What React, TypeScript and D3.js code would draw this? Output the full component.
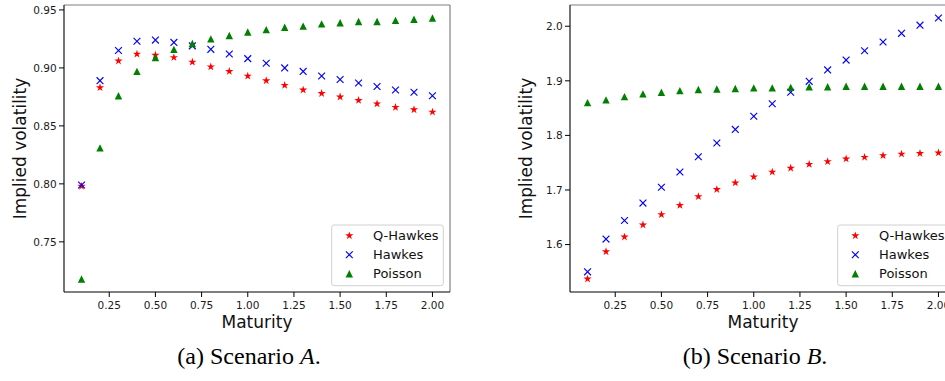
import React from "react"
import * as d3 from "d3"

// maturities shared by both scenarios
const maturities = [0.1, 0.2, 0.3, 0.4, 0.5, 0.6, 0.7, 0.8, 0.9, 1.0, 1.1, 1.2, 1.3, 1.4, 1.5, 1.6, 1.7, 1.8, 1.9, 2.0]

// Scenario A
const qHawkesA = [0.798, 0.883, 0.906, 0.912, 0.911, 0.909, 0.905, 0.901, 0.897, 0.893, 0.889, 0.885, 0.881, 0.878, 0.875, 0.872, 0.869, 0.866, 0.864, 0.862]
const hawkesA = [0.799, 0.889, 0.915, 0.923, 0.924, 0.922, 0.919, 0.916, 0.912, 0.908, 0.904, 0.900, 0.897, 0.893, 0.890, 0.887, 0.884, 0.881, 0.879, 0.876]
const poissonA = [0.718, 0.831, 0.876, 0.897, 0.909, 0.916, 0.921, 0.925, 0.928, 0.931, 0.933, 0.935, 0.936, 0.938, 0.939, 0.940, 0.940, 0.941, 0.942, 0.943]

// Scenario B
const qHawkesB = [1.537, 1.587, 1.614, 1.636, 1.655, 1.672, 1.688, 1.701, 1.713, 1.724, 1.733, 1.740, 1.747, 1.752, 1.757, 1.760, 1.763, 1.766, 1.767, 1.768]
const hawkesB = [1.550, 1.610, 1.644, 1.676, 1.705, 1.733, 1.761, 1.786, 1.811, 1.835, 1.858, 1.879, 1.899, 1.920, 1.938, 1.955, 1.971, 1.987, 2.002, 2.015]
const poissonB = [1.860, 1.865, 1.871, 1.876, 1.879, 1.882, 1.884, 1.885, 1.886, 1.887, 1.887, 1.888, 1.889, 1.889, 1.890, 1.890, 1.890, 1.890, 1.890, 1.890]

const xTicks = [0.25, 0.5, 0.75, 1.0, 1.25, 1.5, 1.75, 2.0]
const yTicksA = [0.75, 0.8, 0.85, 0.9, 0.95]
const yTicksB = [1.6, 1.7, 1.8, 1.9, 2.0]

const seriesNames = ["Q-Hawkes", "Hawkes", "Poisson"]

const FONT = "DejaVu Sans, sans-serif"
const COLORS = { star: "#ff0000", cross: "#0000ff", tri: "#008000" }

type Kind = "star" | "cross" | "tri"

function starPath(r: number) {
  const inner = r * 0.382
  const pts: string[] = []
  for (let i = 0; i < 10; i++) {
    const rad = i % 2 === 0 ? r : inner
    const a = (Math.PI / 5) * i - Math.PI / 2
    pts.push(`${(rad * Math.cos(a)).toFixed(2)},${(rad * Math.sin(a)).toFixed(2)}`)
  }
  return "M" + pts.join("L") + "Z"
}

function Marker({ kind, x, y }: { kind: Kind; x: number; y: number }) {
  if (kind === "star") {
    return <path d={starPath(4.3)} transform={`translate(${x},${y})`} fill={COLORS.star} />
  }
  if (kind === "cross") {
    const h = 3.4
    return (
      <path
        d={`M${-h},${-h}L${h},${h}M${-h},${h}L${h},${-h}`}
        transform={`translate(${x},${y})`}
        stroke={COLORS.cross}
        strokeWidth={1.15}
        fill="none"
      />
    )
  }
  const h = 3.7
  return <path d={`M0,${-h}L${h},${h}L${-h},${h}Z`} transform={`translate(${x},${y})`} fill={COLORS.tri} />
}

function padded(values: number[]): [number, number] {
  const [lo, hi] = d3.extent(values) as [number, number]
  const m = (hi - lo) * 0.05
  return [lo - m, hi + m]
}

interface PanelProps {
  left: number
  series: number[][]
  yTicks: number[]
  yDigits: number
  caption: string
  captionLetter: string
}

const TOP = 5
const BOTTOM = 292
const WIDTH = 386

function Panel({ left, series, yTicks, yDigits, caption, captionLetter }: PanelProps) {
  const right = left + WIDTH
  const x = d3.scaleLinear().domain(padded(maturities)).range([left, right])
  const y = d3.scaleLinear().domain(padded(series.flat())).range([BOTTOM, TOP])
  const kinds: Kind[] = ["star", "cross", "tri"]
  const legX = right - 118.3
  const legY = 225
  const midX = (left + right) / 2

  return (
    <g>
      {/* spines */}
      <line x1={left} x2={right} y1={TOP} y2={TOP} stroke="#808080" strokeWidth={1.2} />
      <line x1={right} x2={right} y1={TOP} y2={BOTTOM} stroke="#808080" strokeWidth={1.2} />
      <line x1={left} x2={left} y1={TOP} y2={BOTTOM} stroke="#000" strokeWidth={1.1} />
      <line x1={left} x2={right} y1={BOTTOM} y2={BOTTOM} stroke="#000" strokeWidth={1.1} />

      {/* x ticks */}
      {xTicks.map((t) => (
        <g key={t}>
          <line x1={x(t)} x2={x(t)} y1={BOTTOM} y2={BOTTOM + 5} stroke="#000" strokeWidth={1} />
          <text x={x(t)} y={308.5} textAnchor="middle" fontFamily={FONT} fontSize={10.5} fill="#1a1a1a">
            {t.toFixed(2)}
          </text>
        </g>
      ))}

      {/* y ticks */}
      {yTicks.map((t) => (
        <g key={t}>
          <line x1={left - 5} x2={left} y1={y(t)} y2={y(t)} stroke="#000" strokeWidth={1} />
          <text x={left - 7.3} y={y(t)} dy="0.36em" textAnchor="end" fontFamily={FONT} fontSize={10.5} fill="#1a1a1a">
            {t.toFixed(yDigits)}
          </text>
        </g>
      ))}

      {/* points */}
      {series.map((vals, si) =>
        vals.map((v, i) => <Marker key={`${si}-${i}`} kind={kinds[si]} x={x(maturities[i])} y={y(v)} />)
      )}

      {/* legend */}
      <rect x={legX} y={legY} width={111.6} height={60.7} rx={2.5} fill="#fff" fillOpacity={0.8} stroke="#d0d0d0" strokeWidth={1} />
      {seriesNames.map((name, i) => (
        <g key={name}>
          <Marker kind={kinds[i]} x={legX + 17.6} y={legY + 10.7 + i * 19} />
          <text x={legX + 41.3} y={legY + 10.7 + i * 19} dy="0.36em" fontFamily={FONT} fontSize={13} fill="#111">
            {name}
          </text>
        </g>
      ))}

      {/* axis labels */}
      <text x={midX} y={328} textAnchor="middle" fontFamily={FONT} fontSize={17} fill="#111">
        Maturity
      </text>
      <text
        transform={`translate(${left - 38.5},${(TOP + BOTTOM) / 2}) rotate(-90)`}
        textAnchor="middle"
        fontFamily={FONT}
        fontSize={17}
        fill="#111"
      >
        Implied volatility
      </text>

      {/* caption */}
      <text x={midX - 8} y={364} textAnchor="middle" fontFamily="Liberation Serif, serif" fontSize={24} fill="#000">
        {caption}
        <tspan fontStyle="italic">{captionLetter}</tspan>.
      </text>
    </g>
  )
}

export default function App() {
  return (
    <svg
      width={945}
      height={381}
      style={{ position: "absolute", left: 0, top: 0, background: "#fff", display: "block" }}
    >
      <rect width={945} height={381} fill="#fff" />
      <Panel left={64} series={[qHawkesA, hawkesA, poissonA]} yTicks={yTicksA} yDigits={2} caption="(a) Scenario " captionLetter="A" />
      <Panel left={570} series={[qHawkesB, hawkesB, poissonB]} yTicks={yTicksB} yDigits={1} caption="(b) Scenario " captionLetter="B" />
    </svg>
  )
}
